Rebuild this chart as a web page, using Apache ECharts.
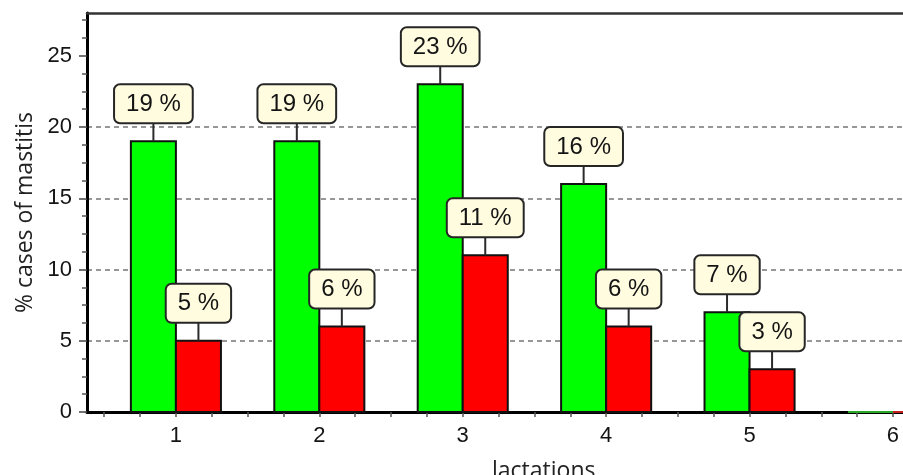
<!DOCTYPE html>
<html>
<head>
<meta charset="utf-8">
<script src="https://cdn.jsdelivr.net/npm/echarts@6/dist/echarts.min.js"></script>
<style>
  html, body { margin: 0; padding: 0; background: #ffffff; }
  #chart { width: 903px; height: 475px; }
</style>
</head>
<body>
<div id="chart"></div>
<script>
// Lactation numbers on the x axis
const lactations = [1, 2, 3, 4, 5, 6];
// Percent of mastitis cases per lactation, two groups
const groupGreen = [19, 19, 23, 16, 7, 0];
const groupRed = [5, 6, 11, 6, 3, 0];
// Tick values
const yMajorTicks = [0, 5, 10, 15, 20, 25];
const yMinorTicks = [1.25, 2.5, 3.75, 6.25, 7.5, 8.75, 11.25, 12.5, 13.75, 16.25, 17.5, 18.75,
  21.25, 22.5, 23.75, 26.25, 27.5];
const xTicks = [0.5, 0.75, 1, 1.25, 1.5, 1.75, 2, 2.25, 2.5, 2.75, 3, 3.25, 3.5, 3.75, 4, 4.25,
  4.5, 4.75, 5, 5.25, 5.5, 5.75, 6];

const BAR_SPAN = 0.314;   // bar width in x units
const LEADER = 19;        // callout leader length, px

function makeRender(side, fill, flatColor) {
  return function (params, api) {
    const x = api.value(0);
    const v = api.value(1);
    const left = side < 0 ? x - BAR_SPAN : x;
    const right = side < 0 ? x : x + BAR_SPAN;
    const pTop = api.coord([left, v]);
    const pBase = api.coord([right, 0]);
    const children = [];
    if (v > 0) {
      const cx = (pTop[0] + pBase[0]) / 2;
      children.push({
        type: 'rect',
        shape: { x: pTop[0], y: pTop[1], width: pBase[0] - pTop[0], height: pBase[1] - pTop[1] },
        style: { fill: fill, stroke: '#111111', lineWidth: 2 }
      });
      children.push({
        type: 'line',
        shape: { x1: cx, y1: pTop[1], x2: cx, y2: pTop[1] - LEADER },
        style: { stroke: '#2b2b2b', lineWidth: 2 }
      });
      children.push({
        type: 'text',
        x: cx,
        y: pTop[1] - LEADER,
        z2: 10,
        style: {
          text: v + ' %',
          align: 'center',
          verticalAlign: 'bottom',
          font: '24px "Liberation Sans", Arial, sans-serif',
          fill: '#141414',
          backgroundColor: '#FFFCDF',
          borderColor: '#262626',
          borderWidth: 2,
          borderRadius: 5,
          padding: [7, 11, 6, 11]
        }
      });
    } else {
      children.push({
        type: 'line',
        shape: { x1: pTop[0], y1: pBase[1], x2: pBase[0], y2: pBase[1] },
        style: { stroke: flatColor, lineWidth: 2 }
      });
    }
    return { type: 'group', children: children };
  };
}

const chart = echarts.init(document.getElementById('chart'), null, { renderer: 'canvas' });

const tickFont = '"Liberation Sans", Arial, sans-serif';
const titleFont = '"Open Sans", "Noto Sans", sans-serif';

chart.setOption({
  animation: false,
  backgroundColor: '#ffffff',
  grid: { left: 87, right: 0, top: 13, bottom: 63 },
  xAxis: [
    {
      type: 'value',
      min: 0.38,
      max: 6.07,
      position: 'bottom',
      axisLine: { show: true, onZero: false, lineStyle: { color: '#000000', width: 3 } },
      axisTick: { show: true, customValues: xTicks, length: 5, lineStyle: { color: '#555555', width: 1.5 } },
      axisLabel: {
        customValues: lactations,
        margin: 13,
        fontSize: 22,
        fontFamily: tickFont,
        color: '#141414'
      },
      splitLine: { show: false }
    },
    {
      type: 'value',
      min: 0.38,
      max: 6.07,
      position: 'top',
      axisLine: { show: true, onZero: false, lineStyle: { color: '#333333', width: 2.5 } },
      axisTick: { show: false },
      axisLabel: { show: false },
      splitLine: { show: false }
    }
  ],
  yAxis: [
    {
      type: 'value',
      min: 0,
      max: 28,
      interval: 5,
      name: '% cases of mastitis',
      nameLocation: 'middle',
      nameGap: 50,
      nameTextStyle: { fontSize: 23, fontFamily: titleFont, color: '#222222' },
      axisLine: { show: true, onZero: false, lineStyle: { color: '#000000', width: 3 } },
      axisTick: { show: true, customValues: yMajorTicks, length: 8, lineStyle: { color: '#444444', width: 1.5 } },
      axisLabel: {
        customValues: yMajorTicks,
        margin: 15,
        fontSize: 22,
        fontFamily: tickFont,
        color: '#141414'
      },
      splitLine: {
        show: true,
        showMinLine: false,
        showMaxLine: false,
        lineStyle: { color: '#979797', width: 2, type: [5, 4] }
      }
    },
    {
      type: 'value',
      min: 0,
      max: 28,
      position: 'left',
      axisLine: { show: false, onZero: false },
      axisTick: { show: true, customValues: yMinorTicks, length: 5, lineStyle: { color: '#555555', width: 1.5 } },
      axisLabel: { show: false },
      splitLine: { show: false }
    }
  ],
  graphic: [
    {
      type: 'text',
      left: 492,
      top: 460,
      style: {
        text: 'lactations',
        font: '23px "Open Sans", "Noto Sans", sans-serif',
        fill: '#222222'
      }
    }
  ],
  series: [
    {
      type: 'custom',
      name: 'green',
      xAxisIndex: 0,
      yAxisIndex: 0,
      encode: { x: 0, y: 1 },
      data: lactations.map((c, i) => [c, groupGreen[i]]),
      renderItem: makeRender(-1, '#00FF00', '#2aa82a'),
      clip: false,
      z: 3
    },
    {
      type: 'custom',
      name: 'red',
      xAxisIndex: 0,
      yAxisIndex: 0,
      encode: { x: 0, y: 1 },
      data: lactations.map((c, i) => [c, groupRed[i]]),
      renderItem: makeRender(1, '#FF0000', '#c42020'),
      clip: false,
      z: 3
    }
  ]
});
</script>
</body>
</html>
